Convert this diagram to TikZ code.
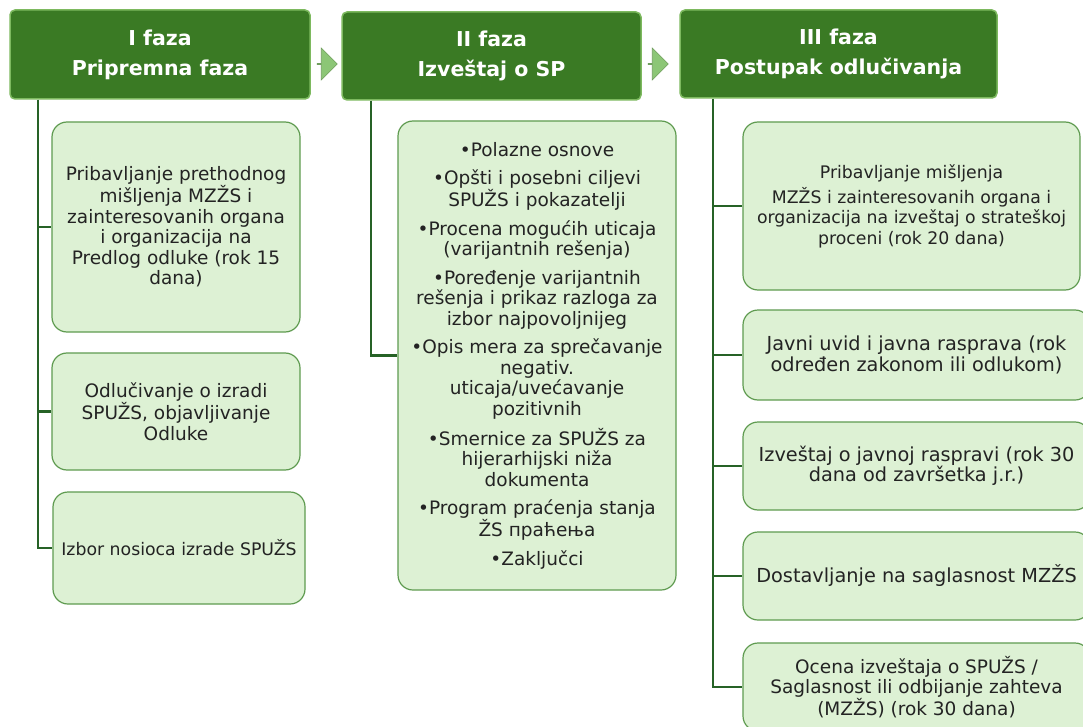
\documentclass[tikz,border=0pt]{standalone}
\usepackage{fontspec}
\setmainfont{DejaVu Sans}
\usetikzlibrary{shapes.arrows}

\definecolor{fazagreen}{RGB}{58,122,36}
\definecolor{fazaedge}{RGB}{125,185,95}
\definecolor{boxfill}{RGB}{221,241,212}
\definecolor{boxedge}{RGB}{95,155,80}
\definecolor{treegreen}{RGB}{38,98,38}
\definecolor{arrowfill}{RGB}{140,198,118}
\definecolor{txt}{RGB}{35,35,35}

\tikzset{
  faza/.style={draw=fazaedge, line width=1.5pt, fill=fazagreen, rounded corners=5pt,
    text=white, font=\bfseries\fontsize{20.5}{30}\selectfont, align=center, inner sep=0pt},
  korak/.style={draw=boxedge, line width=1.2pt, fill=boxfill, rounded corners=15pt,
    text=txt, font=\fontsize{18.5}{20.5}\selectfont, align=center, inner sep=0pt},
  sitno/.style={font=\fontsize{17.3}{20.5}\selectfont},
  krupno/.style={font=\fontsize{19.3}{20.5}\selectfont},
  grana/.style={draw=treegreen, line width=2.4pt},
  strelica/.style={single arrow, draw=arrowfill!80!black, line width=0.6pt, fill=arrowfill,
    inner sep=0pt, minimum height=20pt, minimum width=32pt, single arrow head extend=9pt}
}

\begin{document}
\begin{tikzpicture}[x=1pt, y=-1pt]
\clip (0,0) rectangle (1083,727);
\fill[white] (0,0) rectangle (1083,727);

% headers
\node[faza, minimum width=300pt, minimum height=89pt] (h1) at (160,54.5) {I faza\\Pripremna faza};
\node[faza, minimum width=299pt, minimum height=88pt] (h2) at (491.5,56) {II faza\\Izveštaj o SP};
\node[faza, minimum width=317pt, minimum height=88pt] (h3) at (838.5,54) {III faza\\Postupak odlučivanja};
\node[strelica] (s1) at (327,64) {};
\node[strelica] (s2) at (658,64) {};

% I faza
\node[korak, minimum width=248pt, minimum height=210pt] (a1) at (176,227)
  {Pribavljanje prethodnog\\mišljenja MZŽS i\\zainteresovanih organa\\i organizacija na\\Predlog odluke (rok 15\\dana)};
\node[korak, minimum width=248pt, minimum height=117pt] (a2) at (176,411.5)
  {Odlučivanje o izradi\\SPUŽS, objavljivanje\\Odluke};
\node[korak, sitno, minimum width=252pt, minimum height=112pt] (a3) at (179,548)
  {Izbor nosioca izrade SPUŽS};

% II faza
\node[korak, minimum width=278pt, minimum height=469pt] (b1) at (537,355.5)
  {•Polazne osnove\\[8pt]
   •Opšti i posebni ciljevi\\SPUŽS i pokazatelji\\[8pt]
   •Procena mogućih uticaja\\(varijantnih rešenja)\\[8pt]
   •Poređenje varijantnih\\rešenja i prikaz razloga za\\izbor najpovoljnijeg\\[8pt]
   •Opis mera za sprečavanje\\negativ.\\uticaja/uvećavanje\\pozitivnih\\[8pt]
   •Smernice za SPUŽS za\\hijerarhijski niža\\dokumenta\\[8pt]
   •Program praćenja stanja\\ŽS праћења\\[8pt]
   •Zaključci};

% III faza
\node[korak, sitno, minimum width=337pt, minimum height=168pt] (c1) at (911.5,206)
  {Pribavljanje mišljenja\\[4.5pt]MZŽS i zainteresovanih organa i\\organizacija na izveštaj o strateškoj\\proceni (rok 20 dana)};
\node[korak, krupno, minimum width=347pt, minimum height=90pt] (c2) at (916.5,355)
  {Javni uvid i javna rasprava (rok\\određen zakonom ili odlukom)};
\node[korak, krupno, minimum width=347pt, minimum height=88pt] (c3) at (916.5,466)
  {Izveštaj o javnoj raspravi (rok 30\\dana od završetka j.r.)};
\node[korak, krupno, minimum width=347pt, minimum height=88pt] (c4) at (916.5,576)
  {Dostavljanje na saglasnost MZŽS};
\node[korak, minimum width=347pt, minimum height=88pt] (c5) at (916.5,687)
  {Ocena izveštaja o SPUŽS /\\Saglasnost ili odbijanje zahteva\\(MZŽS) (rok 30 dana)};

% tree lines
\coordinate (t1) at (38,0);
\coordinate (t2) at (371,0);
\coordinate (t3) at (713,0);

\draw[grana] (h1.south -| t1) -- (t1 |- a3.west) -- (a3.west);
\draw[grana] (t1 |- a1.west) -- (a1.west);
\draw[grana] (t1 |- a2.west) -- (a2.west);

\draw[grana] (h2.south -| t2) -- (t2 |- b1.west) -- (b1.west);

\draw[grana] (h3.south -| t3) -- (t3 |- c5.west) -- (c5.west);
\draw[grana] (t3 |- c1.west) -- (c1.west);
\draw[grana] (t3 |- c2.west) -- (c2.west);
\draw[grana] (t3 |- c3.west) -- (c3.west);
\draw[grana] (t3 |- c4.west) -- (c4.west);
\end{tikzpicture}
\end{document}
